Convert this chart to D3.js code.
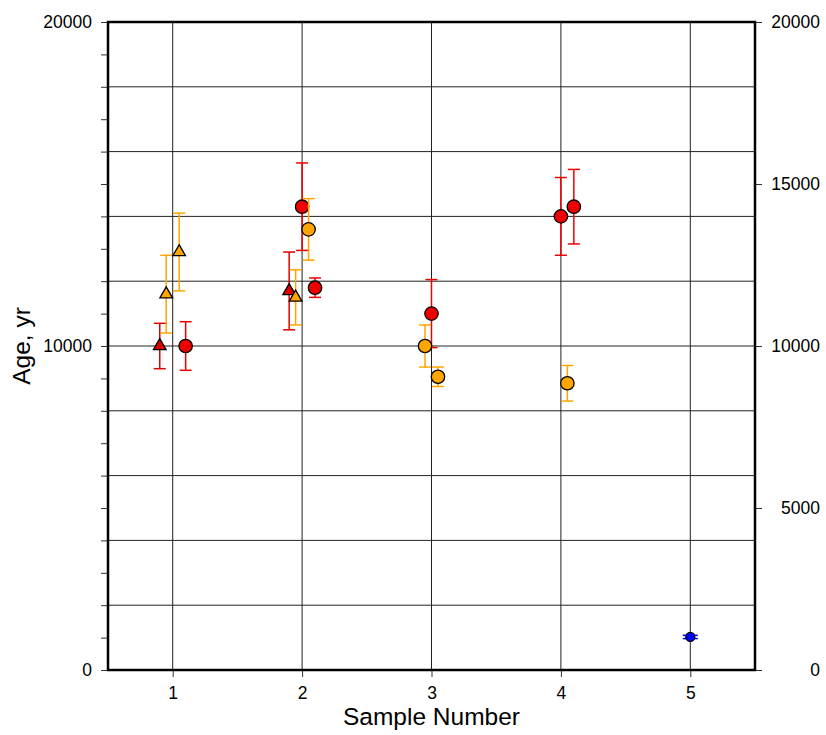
<!DOCTYPE html>
<html>
<head>
<meta charset="utf-8">
<script src="https://cdn.jsdelivr.net/npm/d3@7.9.0/dist/d3.min.js"></script>
<style>
  body { margin: 0; background: #fff; }
  svg { display: block; font-family: "Liberation Sans", Arial, Helvetica, sans-serif; }
</style>
</head>
<body>
<svg id="chart" width="826" height="735"></svg>
<script>
// Ages (yr) with 1-sigma errors, per marker group
const redCirclesX   = [1.1, 2.0, 2.1, 3.0, 4.0, 4.1];
const redCirclesAge = [10000, 14300, 11800, 11000, 14000, 14300];
const redCirclesErr = [750, 1350, 300, 1050, 1200, 1150];

const orangeCirclesX   = [2.05, 2.95, 3.05, 4.05];
const orangeCirclesAge = [13600, 10000, 9050, 8850];
const orangeCirclesErr = [950, 650, 300, 550];

const redTrianglesX   = [0.9, 1.9];
const redTrianglesAge = [10000, 11700];
const redTrianglesErr = [700, 1200];

const orangeTrianglesX   = [0.95, 1.05, 1.95];
const orangeTrianglesAge = [11600, 12900, 11500];
const orangeTrianglesErr = [1200, 1200, 850];

const blueX   = [5];
const blueAge = [1020];
const blueErr = [50];

const sampleTicks = [1, 2, 3, 4, 5];
const leftLabels  = [0, 10000, 20000];
const rightTicks  = [0, 5000, 10000, 15000, 20000];

// layout
const margin = { left: 108, right: 71, top: 22, bottom: 65 };
const width = 826, height = 735;
const iw = width - margin.left - margin.right;
const ih = height - margin.top - margin.bottom;

const svg = d3.select("#chart");
const g = svg.append("g").attr("transform", `translate(${margin.left},${margin.top})`);

const x = d3.scaleLinear().domain([0.5, 5.5]).range([0, iw]);
const y = d3.scaleLinear().domain([0, 20000]).range([ih, 0]);

// grid
g.append("g")
  .selectAll("line")
  .data(d3.range(2000, 20000, 2000))
  .join("line")
  .attr("x1", 0).attr("x2", iw)
  .attr("y1", d => y(d)).attr("y2", d => y(d))
  .attr("stroke", "#222").attr("stroke-width", 1);

g.append("g")
  .selectAll("line")
  .data(sampleTicks)
  .join("line")
  .attr("x1", d => x(d)).attr("x2", d => x(d))
  .attr("y1", 0).attr("y2", ih)
  .attr("stroke", "#222").attr("stroke-width", 1);

// axes
const tickFont = "17.5px";

const leftAxis = g.append("g")
  .call(d3.axisLeft(y)
    .tickValues(d3.range(0, 20001, 1000))
    .tickSize(7).tickPadding(9)
    .tickFormat(d => leftLabels.includes(d) ? d : ""));

const rightAxis = g.append("g")
  .attr("transform", `translate(${iw},0)`)
  .call(d3.axisRight(y).tickValues(rightTicks).tickSize(7).tickPadding(9).tickFormat(d => d));
rightAxis.selectAll("text").attr("text-anchor", "end").attr("x", 65);

const bottomAxis = g.append("g")
  .attr("transform", `translate(0,${ih})`)
  .call(d3.axisBottom(x).tickValues(sampleTicks).tickSize(7).tickPadding(10).tickFormat(d3.format("d")));

[leftAxis, rightAxis, bottomAxis].forEach(a => {
  a.select(".domain").remove();
  a.selectAll("text").attr("font-size", tickFont).attr("fill", "#000")
    .attr("font-family", "Liberation Sans, Arial, sans-serif");
  a.selectAll(".tick line").attr("stroke", "#333").attr("stroke-width", 1);
});

// frame
g.append("rect")
  .attr("x", 0).attr("y", 0).attr("width", iw).attr("height", ih)
  .attr("fill", "none").attr("stroke", "#000").attr("stroke-width", 2.5);

// axis titles
svg.append("text")
  .attr("x", margin.left + iw / 2).attr("y", 725)
  .attr("text-anchor", "middle").attr("font-size", "24.5px")
  .text("Sample Number");

svg.append("text")
  .attr("transform", `translate(30,${margin.top + ih / 2}) rotate(-90)`)
  .attr("text-anchor", "middle").attr("font-size", "24.5px")
  .text("Age, yr");

// error bars + markers
function series(xs, ages, errs, color, shape, r, cap) {
  const data = xs.map((v, i) => ({ x: v, age: ages[i], err: errs[i] }));
  const eb = g.append("g").attr("stroke", color).attr("stroke-width", 1.5);
  data.forEach(d => {
    const cx = x(d.x), y0 = y(d.age - d.err), y1 = y(d.age + d.err);
    eb.append("line").attr("x1", cx).attr("x2", cx).attr("y1", y0).attr("y2", y1);
    eb.append("line").attr("x1", cx - cap).attr("x2", cx + cap).attr("y1", y0).attr("y2", y0);
    eb.append("line").attr("x1", cx - cap).attr("x2", cx + cap).attr("y1", y1).attr("y2", y1);
  });
  const m = g.append("g");
  if (shape === "circle") {
    m.selectAll("circle").data(data).join("circle")
      .attr("cx", d => x(d.x)).attr("cy", d => y(d.age)).attr("r", r)
      .attr("fill", color).attr("stroke", "#000").attr("stroke-width", 1.3);
  } else {
    const tri = d3.symbol().type(d3.symbolTriangle).size(r);
    m.selectAll("path").data(data).join("path")
      .attr("transform", d => `translate(${x(d.x)},${y(d.age)})`)
      .attr("d", tri)
      .attr("fill", color).attr("stroke", "#000").attr("stroke-width", 1.3);
  }
}

series(redTrianglesX, redTrianglesAge, redTrianglesErr, "#e00000", "triangle", 70, 6);
series(orangeTrianglesX, orangeTrianglesAge, orangeTrianglesErr, "#ffa500", "triangle", 70, 6);
series(redCirclesX, redCirclesAge, redCirclesErr, "#ee0000", "circle", 6.7, 6);
series(orangeCirclesX, orangeCirclesAge, orangeCirclesErr, "#ffa500", "circle", 6.7, 6);
series(blueX, blueAge, blueErr, "#0000ff", "circle", 4.5, 7.5);
</script>
</body>
</html>
